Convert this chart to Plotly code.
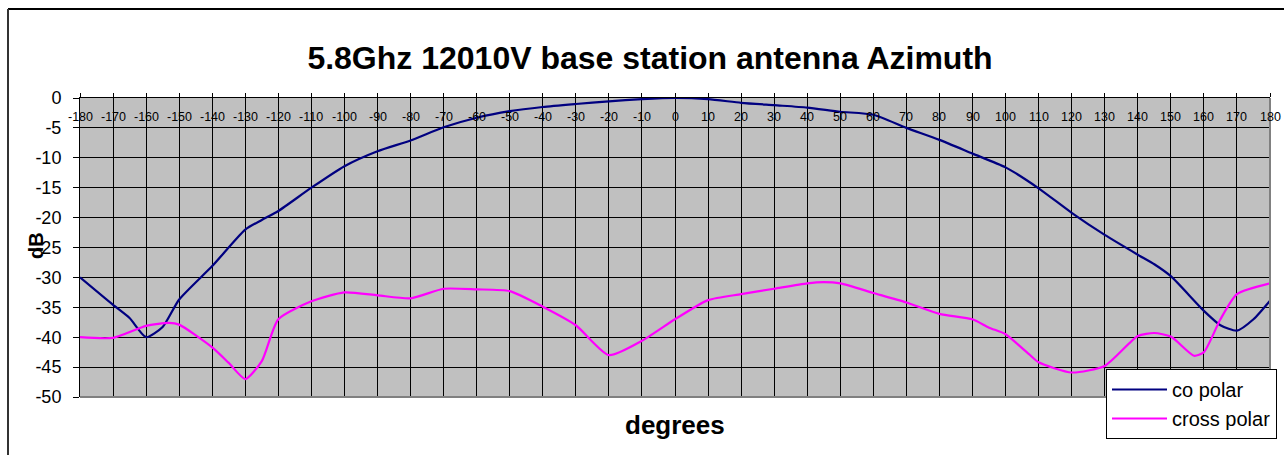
import plotly.graph_objects as go

degrees = [-180, -170, -165, -160, -155, -150, -140, -130, -125, -120, -110, -100, -90, -80, -70, -60,
           -50, -40, -30, -20, -10, 0, 10, 20, 30, 40, 50, 60, 70, 80, 90, 100, 110, 120, 130, 140,
           145, 150, 160, 165, 170, 175, 180]
co_polar = [-30, -34.6, -36.8, -40, -38.3, -33.7, -28.1, -22, -20.4, -18.9, -15, -11.4, -8.9, -7.1, -4.9, -3.3,
            -2.2, -1.5, -1.0, -0.55, -0.2, 0, -0.2, -0.8, -1.2, -1.6, -2.3, -2.8, -5.0, -7.0, -9.3, -11.6,
            -15.1, -19.2, -22.9, -26.2, -27.8, -29.8, -35.6, -38.0, -38.9, -37.0, -33.9]

x_cross = [-180, -170, -160, -153, -150, -140, -135, -130, -125, -120, -110, -100, -90, -80, -70, -60,
           -50, -40, -30, -20, -10, 0, 10, 20, 30, 40, 45, 50, 60, 70, 80, 90, 95, 100, 107, 110, 120,
           130, 140, 145, 150, 157, 160, 165, 170, 180]
cross_polar = [-40, -40.1, -38.1, -37.6, -37.9, -41.7, -44.3, -47, -44, -37, -34, -32.5, -33, -33.5, -31.9, -32.0,
               -32.3, -34.9, -38, -43, -40.6, -37, -33.8, -32.8, -31.9, -31.0, -30.8, -31.0, -32.6, -34.2, -36.1,
               -37.0, -38.4, -39.5, -42.8, -44.2, -45.9, -44.8, -39.8, -39.3, -39.9, -43.1, -42.5, -37, -32.8, -31]

x_ticks = list(range(-180, 181, 10))
y_ticks = list(range(0, -51, -5))

title_text = "5.8Ghz 12010V base station antenna Azimuth"
x_title = "degrees"
y_title = "dB"

W, H = 1284, 455
ML, MR, MT, MB = 80, 14, 98, 58
PW, PH = W - ML - MR, H - MT - MB

def px(xp):
    return (xp - ML) / PW

def py(yp):
    return (H - MB - yp) / PH

fig = go.Figure()
fig.add_trace(go.Scatter(x=degrees, y=co_polar, mode="lines", name="co polar",
                         line=dict(color="#000080", width=2.2, shape="spline", smoothing=0.6)))
fig.add_trace(go.Scatter(x=x_cross, y=cross_polar, mode="lines", name="cross polar",
                         line=dict(color="#FF00FF", width=2.2, shape="spline", smoothing=0.6)))

font_family = "Liberation Sans, Arial, sans-serif"

fig.update_layout(
    width=W, height=H,
    margin=dict(l=ML, r=MR, t=MT, b=MB, pad=0, autoexpand=False),
    paper_bgcolor="white",
    plot_bgcolor="#C0C0C0",
    font=dict(family=font_family, color="black"),
    title=dict(text="<b>" + title_text + "</b>", xref="container", x=650 / W, xanchor="center",
               yref="container", y=1 - 58 / H, yanchor="middle",
               font=dict(size=32, family=font_family, color="black")),
    xaxis=dict(range=[-180, 180], tickvals=x_ticks, showticklabels=False,
               side="top", ticks="outside", ticklen=4, tickcolor="black",
               showline=True, linecolor="black", linewidth=1, mirror=False,
               showgrid=True, gridcolor="black", gridwidth=1, zeroline=False, fixedrange=True),
    yaxis=dict(range=[-50, 0], tickvals=y_ticks, ticktext=[str(v) for v in y_ticks],
               ticks="outside", ticklen=6, tickcolor="black", ticklabelstandoff=8,
               showline=True, linecolor="black", linewidth=1, mirror=False,
               showgrid=True, gridcolor="black", gridwidth=1, zeroline=False,
               tickfont=dict(size=18, family=font_family, color="black"),
               fixedrange=True),
    showlegend=True,
    legend=dict(x=px(1106), y=py(369), xanchor="left", yanchor="top",
                bgcolor="white", bordercolor="black", borderwidth=1,
                font=dict(size=20, family=font_family, color="black"),
                tracegroupgap=0, itemwidth=55),
)

for v in x_ticks:
    fig.add_annotation(text=str(v), xref="x", yref="paper", x=v, y=py(117),
                       xanchor="center", yanchor="middle", showarrow=False,
                       font=dict(size=12.5, family=font_family, color="black"))

fig.add_annotation(text="<b>" + y_title + "</b>", xref="paper", yref="paper",
                   x=px(36), y=py(246), xanchor="center", yanchor="middle", showarrow=False,
                   textangle=-90, font=dict(size=20, family=font_family, color="black"))

fig.add_annotation(text="<b>" + x_title + "</b>", xref="paper", yref="paper",
                   x=px(675), y=py(425), xanchor="center", yanchor="middle", showarrow=False,
                   font=dict(size=26, family=font_family, color="black"))

# plot area gray border (bottom and right)
fig.add_shape(type="line", xref="paper", yref="paper", x0=0, x1=1, y0=0, y1=0,
              line=dict(color="#808080", width=2), layer="above")
fig.add_shape(type="line", xref="paper", yref="paper", x0=1, x1=1, y0=0, y1=1,
              line=dict(color="#808080", width=2), layer="above")
# chart border (top and left)
fig.add_shape(type="line", xref="paper", yref="paper", x0=px(8), x1=px(W + 5), y0=py(9), y1=py(9),
              line=dict(color="black", width=2), layer="above")
fig.add_shape(type="line", xref="paper", yref="paper", x0=px(8), x1=px(8), y0=py(9), y1=py(H + 5),
              line=dict(color="#333333", width=2), layer="above")

fig.write_html("out.html", config={"displayModeBar": False},
               post_script="document.body.style.margin='0';document.body.style.overflow='hidden';")
